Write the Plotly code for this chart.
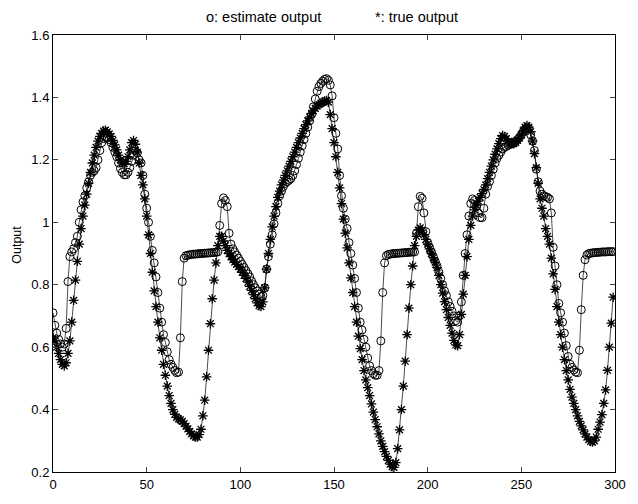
import plotly.graph_objects as go

x_vals = list(range(0, 300))

true_output = [
    0.63, 0.62, 0.60, 0.58, 0.56, 0.545, 0.54, 0.55, 0.58, 0.62,
    0.68, 0.75, 0.815, 0.875, 0.93, 0.98, 1.02, 1.055, 1.09, 1.125,
    1.16, 1.19, 1.215, 1.24, 1.26, 1.275, 1.285, 1.292, 1.295, 1.29,
    1.283, 1.275, 1.262, 1.248, 1.232, 1.215, 1.2, 1.19, 1.188, 1.195,
    1.21, 1.232, 1.255, 1.262, 1.25, 1.225, 1.19, 1.15, 1.12, 1.075,
    1.02, 0.96, 0.9, 0.84, 0.78, 0.73, 0.68, 0.63, 0.59, 0.545,
    0.51, 0.475, 0.445, 0.42, 0.40, 0.385, 0.375, 0.37, 0.367, 0.362,
    0.355, 0.347, 0.338, 0.33, 0.322, 0.316, 0.312, 0.312, 0.32, 0.337,
    0.38, 0.43, 0.505, 0.59, 0.675, 0.755, 0.815, 0.87, 0.925, 0.955,
    0.955, 0.94, 0.925, 0.91, 0.9, 0.89, 0.88, 0.872, 0.865, 0.858,
    0.85, 0.84, 0.83, 0.82, 0.808, 0.795, 0.782, 0.768, 0.755, 0.742,
    0.733, 0.73, 0.745, 0.79, 0.85, 0.9, 0.945, 0.985, 1.02, 1.05,
    1.08, 1.1, 1.12, 1.135, 1.15, 1.165, 1.18, 1.195, 1.21, 1.225,
    1.24, 1.255, 1.27, 1.285, 1.3, 1.313, 1.325, 1.337, 1.348, 1.357,
    1.365, 1.372, 1.377, 1.381, 1.385, 1.388, 1.39, 1.385, 1.345, 1.3,
    1.255, 1.21, 1.16, 1.11, 1.06, 1.01, 0.965, 0.918, 0.87, 0.822,
    0.775, 0.73, 0.68, 0.635, 0.595, 0.56, 0.525, 0.495, 0.47, 0.445,
    0.418, 0.392, 0.368, 0.345, 0.322, 0.3, 0.282, 0.265, 0.25, 0.237,
    0.225, 0.217, 0.215, 0.23, 0.275, 0.335, 0.4, 0.475, 0.555, 0.64,
    0.725, 0.8, 0.86, 0.925, 0.955, 0.975, 0.982, 0.975, 0.96, 0.945,
    0.93, 0.915, 0.9, 0.887, 0.872, 0.855, 0.83, 0.8, 0.773, 0.746,
    0.72, 0.695, 0.67, 0.645, 0.622, 0.607, 0.605, 0.64, 0.705, 0.77,
    0.83, 0.89, 0.945, 0.99, 1.02, 1.04, 1.055, 1.068, 1.08, 1.092,
    1.105, 1.12, 1.14, 1.16, 1.18, 1.2, 1.218, 1.235, 1.252, 1.268,
    1.278, 1.275, 1.268, 1.26, 1.255, 1.252, 1.252, 1.256, 1.262, 1.27,
    1.28, 1.293, 1.305, 1.31, 1.305, 1.29, 1.26, 1.22, 1.175, 1.125,
    1.075, 1.045, 1.02, 0.98, 0.955, 0.93, 0.885, 0.835, 0.785, 0.73,
    0.68, 0.64, 0.6, 0.56, 0.525, 0.495, 0.465, 0.44, 0.42, 0.40,
    0.38, 0.362, 0.348, 0.335, 0.322, 0.312, 0.304, 0.298, 0.296, 0.30,
    0.312, 0.337, 0.36, 0.384, 0.42, 0.463, 0.526, 0.6, 0.677, 0.76,
]

estimate_output = [
    0.71, 0.67, 0.645, 0.625, 0.61, 0.60, 0.61, 0.66, 0.81, 0.89,
    0.905, 0.915, 0.935, 0.955, 1.0, 1.04, 1.065, 1.085, 1.11, 1.13,
    1.15, 1.16, 1.165, 1.175, 1.2, 1.23, 1.255, 1.268, 1.272, 1.27,
    1.265, 1.255, 1.24, 1.225, 1.21, 1.19, 1.172, 1.16, 1.152, 1.152,
    1.16, 1.175, 1.195, 1.215, 1.228, 1.222, 1.2, 1.19, 1.15, 1.09,
    1.045, 1.0, 0.955, 0.91, 0.87, 0.825, 0.775, 0.725, 0.68, 0.64,
    0.615, 0.585, 0.56, 0.545, 0.535, 0.525, 0.518, 0.52, 0.63, 0.81,
    0.885, 0.893, 0.895, 0.896, 0.897, 0.898, 0.898, 0.899, 0.899, 0.9,
    0.9, 0.901, 0.901, 0.902, 0.902, 0.903, 0.903, 0.904, 0.905, 0.99,
    1.06, 1.078, 1.07, 1.05, 0.965, 0.93, 0.915, 0.905, 0.895, 0.885,
    0.875, 0.865, 0.855, 0.845, 0.835, 0.825, 0.812, 0.8, 0.79, 0.78,
    0.77, 0.762, 0.765, 0.79, 0.85, 0.89, 0.93, 0.96, 0.995, 1.03,
    1.06, 1.085, 1.1, 1.115, 1.125, 1.13, 1.135, 1.14, 1.15, 1.165,
    1.185, 1.205, 1.225, 1.245, 1.265, 1.285, 1.305, 1.325, 1.345, 1.37,
    1.395, 1.42, 1.435, 1.445, 1.452, 1.458, 1.46, 1.455, 1.44, 1.405,
    1.335, 1.285, 1.235, 1.15, 1.085, 1.045, 1.01, 0.98, 0.935, 0.9,
    0.863, 0.82, 0.775, 0.725, 0.68, 0.655, 0.625, 0.6, 0.565, 0.54,
    0.525, 0.515, 0.51, 0.51, 0.525, 0.62, 0.775, 0.87, 0.893, 0.897,
    0.898, 0.899, 0.9, 0.9, 0.901, 0.901, 0.902, 0.902, 0.903, 0.903,
    0.904, 0.904, 0.905, 0.905, 0.965, 1.05, 1.083, 1.077, 1.03, 0.97,
    0.935, 0.92, 0.905, 0.89, 0.875, 0.86, 0.84, 0.82, 0.8, 0.78,
    0.765, 0.745, 0.73, 0.715, 0.7, 0.685, 0.68, 0.7, 0.745, 0.83,
    0.9, 0.96, 1.02, 1.06, 1.075, 1.07, 1.05, 1.03, 1.015, 1.015,
    1.045, 1.09, 1.115, 1.13, 1.15, 1.17, 1.19, 1.205, 1.215, 1.225,
    1.235, 1.24, 1.243, 1.247, 1.25, 1.252, 1.255, 1.26, 1.265, 1.272,
    1.28, 1.29, 1.298, 1.302, 1.3, 1.28, 1.26, 1.23, 1.17, 1.13,
    1.1, 1.09, 1.085, 1.082, 1.08, 1.075, 1.03, 0.92, 0.86, 0.8,
    0.74, 0.71, 0.68, 0.645, 0.605, 0.57, 0.545, 0.535, 0.527, 0.52,
    0.518, 0.59, 0.72, 0.83, 0.88, 0.895, 0.9, 0.901, 0.902, 0.903,
    0.903, 0.904, 0.904, 0.905, 0.905, 0.905, 0.906, 0.906, 0.906, 0.906,
]

x_ticks = [0, 50, 100, 150, 200, 250, 300]
y_ticks = [0.2, 0.4, 0.6, 0.8, 1.0, 1.2, 1.4, 1.6]
y_tick_text = ["0.2", "0.4", "0.6", "0.8", "1", "1.2", "1.4", "1.6"]

FONT = "Liberation Sans, Arial, Helvetica, sans-serif"

fig = go.Figure()
fig.add_trace(go.Scatter(
    x=x_vals, y=estimate_output, mode="lines+markers",
    line=dict(color="black", width=0.7),
    marker=dict(symbol="circle-open", size=8, color="black", line=dict(width=1, color="black")),
    name="estimate output", showlegend=False,
))
fig.add_trace(go.Scatter(
    x=x_vals, y=true_output, mode="lines+markers",
    line=dict(color="black", width=0.7),
    marker=dict(symbol="asterisk-open", size=8, color="black", line=dict(width=1.3, color="black")),
    name="true output", showlegend=False,
))

fig.update_layout(
    width=638, height=504,
    margin=dict(l=53, r=16, t=35, b=23),
    paper_bgcolor="white", plot_bgcolor="white",
    font=dict(family=FONT, size=12, color="black"),
    xaxis=dict(range=[0, 300], tickvals=x_ticks, ticks="inside", ticklen=5,
               showline=True, linecolor="black", linewidth=1, mirror="ticks",
               showgrid=False, zeroline=False, tickfont=dict(size=13)),
    yaxis=dict(range=[0.2, 1.6], tickvals=y_ticks, ticktext=y_tick_text, ticks="inside", ticklen=5,
               showline=True, linecolor="black", linewidth=1, mirror="ticks",
               showgrid=False, zeroline=False, tickfont=dict(size=13)),
    annotations=[
        dict(text="o: estimate output", xref="paper", yref="paper", x=0.374, y=1.0,
             xanchor="center", yanchor="middle", yshift=18, showarrow=False, font=dict(size=14.5)),
        dict(text="*: true output", xref="paper", yref="paper", x=0.647, y=1.0,
             xanchor="center", yanchor="middle", yshift=18, showarrow=False, font=dict(size=14.5)),
        dict(text="Output", xref="paper", yref="paper", x=0, y=0.52, xshift=-36,
             xanchor="center", yanchor="middle",
             textangle=-90, showarrow=False, font=dict(size=12.5)),
    ],
)

fig.write_html("out.html")
